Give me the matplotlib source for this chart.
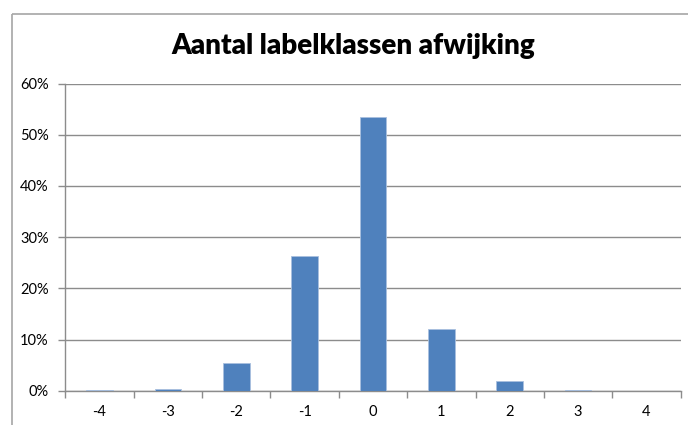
import matplotlib
matplotlib.use("Agg")
import matplotlib.pyplot as plt
from matplotlib.ticker import PercentFormatter
from matplotlib.lines import Line2D

# afwijking in aantal labelklassen
klassen = ["-4", "-3", "-2", "-1", "0", "1", "2", "3", "4"]
aandeel = [0.1, 0.35, 5.35, 26.3, 53.5, 12.05, 1.85, 0.1, 0.0]
y_ticks = [0, 10, 20, 30, 40, 50, 60]

plt.rcParams["font.family"] = ["Lato", "DejaVu Sans"]

fig = plt.figure(figsize=(6.88, 4.25), dpi=100)
ax = fig.add_axes([0.0949, 0.0807, 0.8945, 0.7228])

# kader om de grafiek: alleen boven en links zichtbaar
kader_x = 12 / 688
kader_y = 1 - 13.5 / 425
fig.lines.append(Line2D([kader_x, kader_x], [0, kader_y], transform=fig.transFigure,
                        color="#a6a6a6", linewidth=1.2, solid_capstyle="butt"))
fig.lines.append(Line2D([kader_x, 1.01], [kader_y, kader_y], transform=fig.transFigure,
                        color="#a6a6a6", linewidth=1.2, solid_capstyle="butt"))

x = list(range(len(klassen)))
ax.bar(x, aandeel, width=0.39, color="#4f81bd", edgecolor="#a9c0df",
       linewidth=0.6, zorder=3)

ax.set_xlim(-0.5, len(klassen) - 0.5)
ax.set_ylim(0, 60)
ax.set_yticks(y_ticks)
ax.yaxis.set_major_formatter(PercentFormatter(decimals=0))
ax.grid(axis="y", color="#8c8c8c", linewidth=1.0, zorder=0)

ax.set_xticks(x)
ax.set_xticklabels(klassen)
ax.set_xticks([i - 0.5 for i in range(len(klassen) + 1)], minor=True)
ax.tick_params(axis="x", which="major", length=0, pad=10, labelsize=10.5)
ax.tick_params(axis="x", which="minor", length=5, color="#8c8c8c", width=1)
ax.tick_params(axis="y", length=5, color="#8c8c8c", width=1, pad=7, labelsize=10.5)

for side in ["top", "right"]:
    ax.spines[side].set_visible(False)
for side in ["left", "bottom"]:
    ax.spines[side].set_color("#8c8c8c")
    ax.spines[side].set_linewidth(1)

fig.text(353 / 688, 1 - 46 / 425, "Aantal labelklassen afwijking",
         ha="center", va="center", fontsize=20, fontweight="heavy")

fig.savefig("out.png", dpi=100, facecolor="white")
